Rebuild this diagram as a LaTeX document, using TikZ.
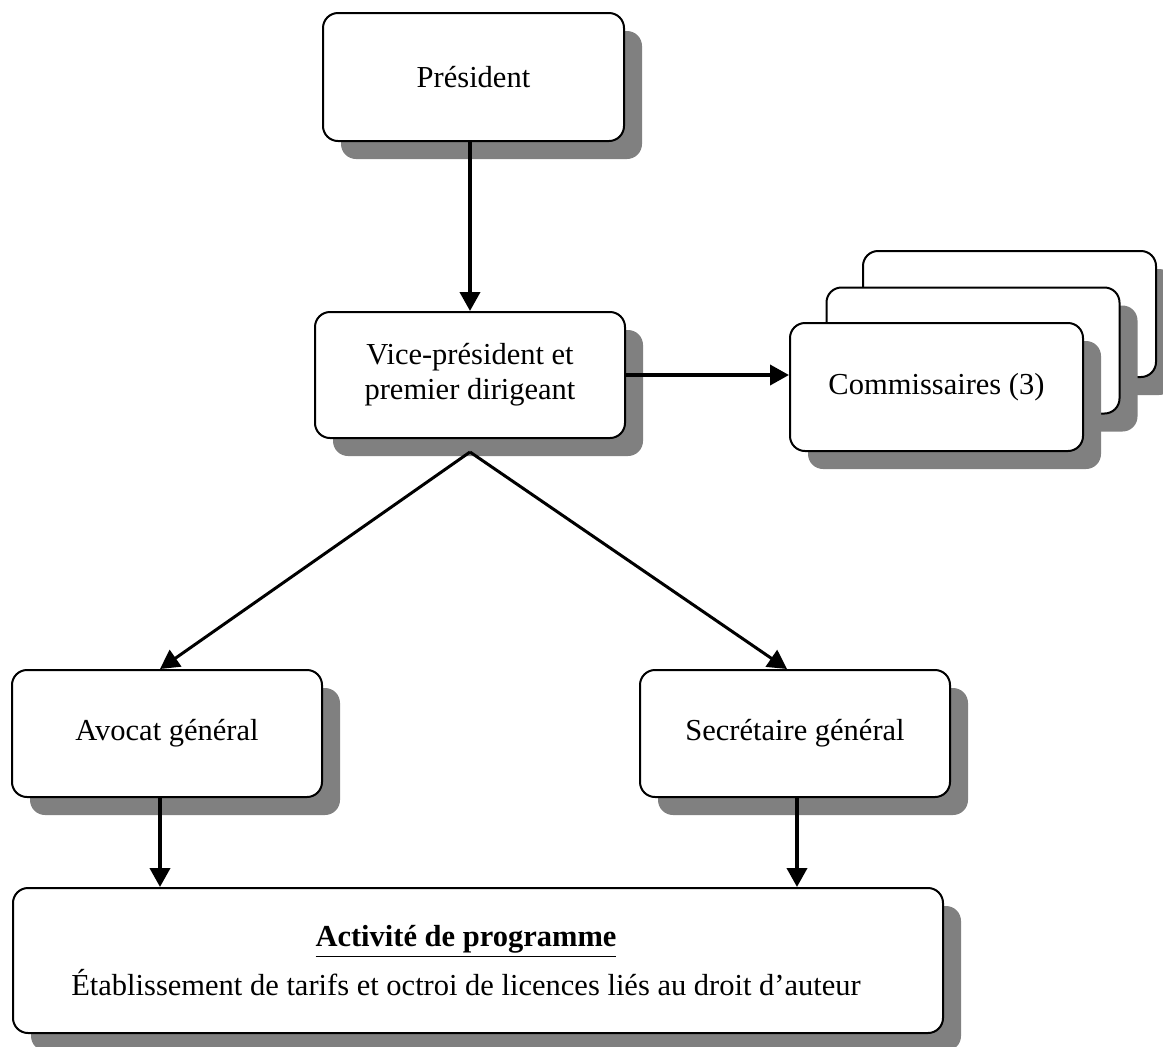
\documentclass[tikz,border=0pt]{standalone}
\usepackage{fontspec}
\setmainfont{Liberation Serif}
\usepackage{xcolor}
\usetikzlibrary{arrows.meta,shadows}

\begin{document}
\begin{tikzpicture}[x=0.5pt, y=-0.5pt, thick,
box/.style={rectangle, draw=black, fill=white, line width=1pt, rounded corners=7.5pt, align=center, inner sep=0pt, minimum width=155pt, minimum height=63.5pt, font=\fontsize{15.25}{17.5}\selectfont, drop shadow={shadow xshift=9pt, shadow yshift=-9pt, fill=black!50, opacity=1}},
arrow/.style={-{Triangle[length=9.5pt, width=10pt]}, line width=1.9pt}]
\useasboundingbox (0,0) rectangle (1163,1046);
\node[box, minimum width=150.5pt, minimum height=64pt] (pres) at (473.5,77) {Président};
\node[box, minimum height=63pt] (vp) at (470,375) {Vice-président et\\premier dirigeant};
% trois commissaires empiles
\node[box, minimum width=146.5pt, minimum height=63pt] (comm3) at (1009.5,314) {};
\node[box, minimum width=146.5pt, minimum height=63pt] (comm2) at (973,350.5) {};
\node[box, minimum width=146.5pt, minimum height=64pt] (comm1) at (936.5,387) {Commissaires (3)};
\node[box] (avocat) at (167,733.5) {Avocat général};
\node[box] (secr) at (795,733.5) {Secrétaire général};
\node[box, minimum width=465pt, minimum height=72.5pt] (prog) at (478,960.5) {\underline{\textbf{Activité de programme}}\hspace*{12pt}\\[5pt]Établissement de tarifs et octroi de licences liés au droit d’auteur\hspace*{12pt}};
\coordinate (fork) at (470,452);
\draw[arrow] (vp.north |- pres.south) -- (vp.north);
\draw[arrow] (vp.east) -- (vp.east -| comm1.west);
\draw[arrow, line width=1.5pt] (fork) -- ([xshift=-3.5pt]avocat.north);
\draw[arrow, line width=1.5pt] (fork) -- ([xshift=-4pt]secr.north);
\draw[arrow] ([xshift=-3.5pt]avocat.south) -- ([xshift=-3.5pt]avocat.south |- prog.north);
\draw[arrow] ([xshift=1pt]secr.south) -- ([xshift=1pt]secr.south |- prog.north);
\end{tikzpicture}
\end{document}
